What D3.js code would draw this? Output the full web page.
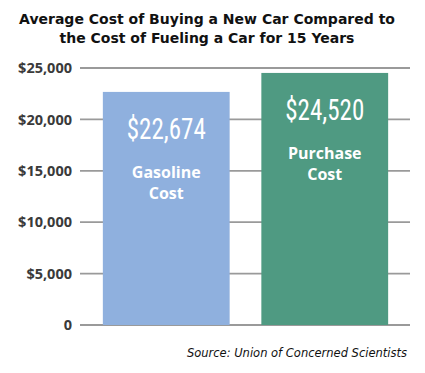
<!DOCTYPE html>
<html><head><meta charset="utf-8">
<script src="https://cdn.jsdelivr.net/npm/d3@7"></script>
<style>body{margin:0;background:#fff}svg{display:block}</style>
</head><body>
<svg id="c" width="425" height="373"></svg>
<script>
const categories = ["Gasoline Cost", "Purchase Cost"];
const labelLines = [["Gasoline", "Cost"], ["Purchase", "Cost"]];
const values = [22674, 24520];
const valueLabels = ["$22,674", "$24,520"];
const tickValues = [0, 5000, 10000, 15000, 20000, 25000];
const tickLabels = ["0", "$5,000", "$10,000", "$15,000", "$20,000", "$25,000"];
const colors = ["#8fb0de", "#4f9a82"];
const titleLines = ["Average Cost of Buying a New Car Compared to", "the Cost of Fueling a Car for 15 Years"];
const source = "Source: Union of Concerned Scientists";

const svg = d3.select("#c");
const y = d3.scaleLinear().domain([0, 25000]).range([325, 68]);
const x = d3.scaleBand().domain(categories).range([87, 404]).paddingInner(0.2).paddingOuter(0.1);

// title
svg.append("g").selectAll("text").data(titleLines).join("text")
  .attr("x", 207).attr("y", (d, i) => 24 + i * 19)
  .attr("text-anchor", "middle")
  .attr("font-family", "DejaVu Sans").attr("font-weight", "bold").attr("font-size", 14)
  .attr("fill", "#111").text(d => d);

// axis labels
const g = svg.append("g").attr("transform", "translate(80,0)")
  .call(d3.axisLeft(y).tickValues(tickValues).tickFormat((d, i) => tickLabels[i]).tickSize(0).tickPadding(8));
g.select(".domain").remove();
g.selectAll("text").attr("font-family", "Open Sans").attr("font-weight", "bold").attr("font-size", 14.5).attr("fill", "#3a3a3a");

// grid lines
svg.append("g").selectAll("line").data(tickValues).join("line")
  .attr("x1", 80).attr("x2", 410).attr("y1", d => y(d)).attr("y2", d => y(d))
  .attr("stroke", "#9a9a9a").attr("stroke-width", 1.8);

// bars
svg.append("g").selectAll("rect").data(values).join("rect")
  .attr("x", (d, i) => x(categories[i])).attr("width", x.bandwidth())
  .attr("y", d => y(d)).attr("height", d => y(0) - y(d))
  .attr("fill", (d, i) => colors[i]);

// value labels
svg.append("g").selectAll("text").data(values).join("text")
  .attr("x", (d, i) => x(categories[i]) + x.bandwidth() / 2)
  .attr("y", d => y(d) + 47)
  .attr("text-anchor", "middle")
  .attr("font-family", "Liberation Sans Narrow, Roboto Condensed, Liberation Sans")
  .attr("font-size", 30).attr("fill", "#fff")
  .attr("textLength", 79).attr("lengthAdjust", "spacingAndGlyphs")
  .text((d, i) => valueLabels[i]);

// category labels
values.forEach((v, i) => {
  svg.append("g").selectAll("text").data(labelLines[i]).join("text")
    .attr("x", x(categories[i]) + x.bandwidth() / 2)
    .attr("y", (d, j) => y(v) + 86 + j * 21)
    .attr("text-anchor", "middle")
    .attr("font-family", "Open Sans").attr("font-weight", "bold").attr("font-size", 16)
    .attr("fill", "#fff").text(d => d);
});

// source
svg.append("text").attr("x", 407).attr("y", 357).attr("text-anchor", "end")
  .attr("font-family", "DejaVu Sans").attr("font-style", "italic").attr("font-size", 11.5)
  .attr("fill", "#111").text(source);
</script>
</body></html>
